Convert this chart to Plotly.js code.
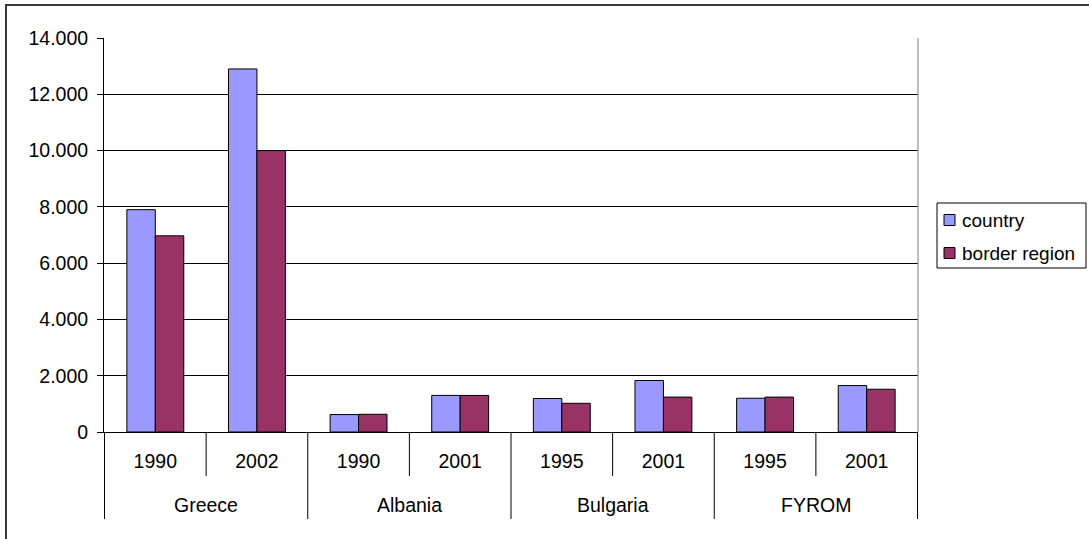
<!DOCTYPE html>
<html>
<head>
<meta charset="utf-8">
<script src="https://cdn.plot.ly/plotly-3.0.1.min.js"></script>
<style>
  html, body { margin: 0; padding: 0; background: #fff; }
  #wrap { position: relative; width: 1089px; height: 539px; overflow: hidden; }
  #chart { width: 1089px; height: 539px; }
  #frame { position: absolute; left: 5px; top: 4px; width: 1100px; height: 560px;
           border-top: 2px solid #3a3a3a; border-left: 2px solid #3a3a3a; pointer-events: none; }
</style>
</head>
<body>
<div id="wrap">
  <div id="chart"></div>
  <div id="frame"></div>
</div>
<script>
// ---- data ----
const countries = ['Greece', 'Greece', 'Albania', 'Albania', 'Bulgaria', 'Bulgaria', 'FYROM', 'FYROM'];
const years = ['1990', '2002', '1990', '2001', '1995', '2001', '1995', '2001'];
const countryValues = [7900, 12900, 620, 1300, 1190, 1830, 1200, 1650];
const borderValues = [6970, 10000, 630, 1300, 1020, 1240, 1240, 1520];
const seriesNames = ['country', 'border region'];
const yTicks = [0, 2000, 4000, 6000, 8000, 10000, 12000, 14000];

// ---- styles ----
const colors = ['#9999FF', '#993366'];
const FONT = 'Liberation Sans, Arial, sans-serif';
const FS = 19.5;
const LFS = 19;

// unique category keys (country + year), labelled by year on the axis
const cats = countries.map((c, i) => c + ' ' + years[i]);

const traces = [countryValues, borderValues].map((vals, i) => ({
  type: 'bar',
  name: seriesNames[i],
  x: cats,
  y: vals,
  marker: { color: colors[i], line: { color: '#000', width: 1 } },
  showlegend: false,
  hoverinfo: 'y'
}));

// plot area geometry (pixels) used to place decorations
const L = 104, R = 918, T = 38, B = 432;
const W = R - L, H = B - T;
const px = v => (v - L) / W;
const py = v => (B - v) / H;

const shapes = [];
const annotations = [];
// right border of plot area
shapes.push({ type: 'line', xref: 'paper', yref: 'paper', x0: 1, x1: 1, y0: 0, y1: 1,
  line: { color: '#808080', width: 1 } });

// category separators: short ones between years, long ones between countries
const n = cats.length;
for (let k = 0; k <= n; k++) {
  const groupEdge = (k === 0 || k === n || countries[k] !== countries[k - 1]);
  shapes.push({ type: 'line', xref: 'x', yref: 'paper', x0: k - 0.5, x1: k - 0.5,
    y0: 0, y1: py(groupEdge ? 519 : 476), line: { color: '#000', width: 1 } });
}
// country group labels
let start = 0;
for (let k = 1; k <= n; k++) {
  if (k === n || countries[k] !== countries[start]) {
    annotations.push({ xref: 'x', yref: 'paper', x: (start + k - 1) / 2, y: py(505),
      xanchor: 'center', yanchor: 'middle', text: countries[start], showarrow: false,
      font: { family: FONT, size: FS, color: '#000' } });
    start = k;
  }
}

// legend (box, swatches, labels)
shapes.push({ type: 'rect', xref: 'paper', yref: 'paper', x0: px(937), x1: px(1086),
  y0: py(268), y1: py(203), line: { color: '#000', width: 1 }, fillcolor: '#fff' });
const itemY = [220, 253];
seriesNames.forEach((name, i) => {
  shapes.push({ type: 'rect', xref: 'paper', yref: 'paper', x0: px(944), x1: px(955),
    y0: py(itemY[i] + 5.5), y1: py(itemY[i] - 5.5), line: { color: '#000', width: 1 },
    fillcolor: colors[i] });
  annotations.push({ xref: 'paper', yref: 'paper', x: px(960), y: py(itemY[i]),
    xanchor: 'left', yanchor: 'middle', text: name, showarrow: false,
    font: { family: FONT, size: LFS, color: '#000' } });
});

const layout = {
  width: 1089, height: 539,
  margin: { l: L, r: 1089 - R, t: T, b: 539 - B, pad: 0 },
  paper_bgcolor: '#fff', plot_bgcolor: '#fff',
  font: { family: FONT, size: FS, color: '#000' },
  separators: ',.',
  barmode: 'group', bargap: 0.44, bargroupgap: 0,
  showlegend: false,
  xaxis: {
    type: 'category', categoryorder: 'array', categoryarray: cats,
    tickvals: cats, ticktext: years,
    showline: true, linecolor: '#000', linewidth: 1,
    ticks: '', showgrid: false, ticklabelstandoff: 12,
    tickfont: { family: FONT, size: FS, color: '#000' }
  },
  yaxis: {
    range: [0, 14000], tickvals: yTicks, tickformat: ',d',
    showline: true, linecolor: '#000', linewidth: 1,
    ticks: 'outside', ticklen: 6, tickcolor: '#000',
    ticklabelstandoff: 5,
    showgrid: true, gridcolor: '#000', gridwidth: 1,
    zeroline: false,
    tickfont: { family: FONT, size: FS, color: '#000' }
  },
  shapes: shapes,
  annotations: annotations
};

Plotly.newPlot('chart', traces, layout, { displayModeBar: false, staticPlot: true });
</script>
</body>
</html>
